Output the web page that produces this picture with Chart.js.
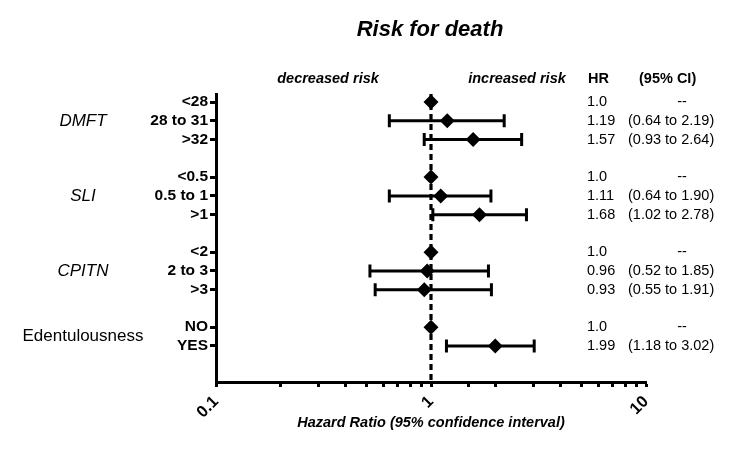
<!DOCTYPE html>
<html>
<head>
<meta charset="utf-8">
<script src="https://cdn.jsdelivr.net/npm/chart.js@4/dist/chart.umd.min.js"></script>
<style>
html,body{margin:0;padding:0;background:#fff;}
canvas{display:block;}
</style>
</head>
<body>
<canvas id="c" width="740" height="450"></canvas>
<script>
const groups = ['DMFT', 'SLI', 'CPITN', 'Edentulousness'];
const groupItalic = [true, true, true, false];
const rowLabels = ['<28', '28 to 31', '>32', '<0.5', '0.5 to 1', '>1', '<2', '2 to 3', '>3', 'NO', 'YES'];
const rowGroup = [0, 0, 0, 1, 1, 1, 2, 2, 2, 3, 3];
const hr = [1.0, 1.19, 1.57, 1.0, 1.11, 1.68, 1.0, 0.96, 0.93, 1.0, 1.99];
const ciLow = [null, 0.64, 0.93, null, 0.64, 1.02, null, 0.52, 0.55, null, 1.18];
const ciHigh = [null, 2.19, 2.64, null, 1.90, 2.78, null, 1.85, 1.91, null, 3.02];
const hrText = ['1.0', '1.19', '1.57', '1.0', '1.11', '1.68', '1.0', '0.96', '0.93', '1.0', '1.99'];
const ciText = ['--', '(0.64 to 2.19)', '(0.93 to 2.64)', '--', '(0.64 to 1.90)', '(1.02 to 2.78)', '--', '(0.52 to 1.85)', '(0.55 to 1.91)', '--', '(1.18 to 3.02)'];
const xTickLabels = [0.1, 1, 10];
const refValue = 1;

const FONT = "'Liberation Sans', Arial, Helvetica, sans-serif";
const positions = rowLabels.map((_, i) => i + rowGroup[i]);

const overlay = {
  id: 'overlay',
  beforeDatasetsDraw(chart) {
    const { ctx, chartArea, scales: { x, y } } = chart;
    ctx.save();
    const px = x.getPixelForValue(refValue);
    ctx.strokeStyle = '#000';
    ctx.lineWidth = 3.2;
    ctx.setLineDash([6, 4]);
    ctx.beginPath();
    ctx.moveTo(px, chartArea.top);
    ctx.lineTo(px, chartArea.bottom);
    ctx.stroke();
    ctx.setLineDash([]);
    ctx.lineWidth = 3;
    for (let i = 0; i < hr.length; i++) {
      if (ciLow[i] == null) continue;
      const py = y.getPixelForValue(positions[i]);
      const x1 = x.getPixelForValue(ciLow[i]);
      const x2 = x.getPixelForValue(ciHigh[i]);
      ctx.beginPath();
      ctx.moveTo(x1, py); ctx.lineTo(x2, py);
      ctx.moveTo(x1, py - 6.5); ctx.lineTo(x1, py + 6.5);
      ctx.moveTo(x2, py - 6.5); ctx.lineTo(x2, py + 6.5);
      ctx.stroke();
    }
    ctx.restore();
  },
  afterDraw(chart) {
    const { ctx, chartArea, scales: { x, y } } = chart;
    ctx.save();
    ctx.fillStyle = '#000';
    ctx.textBaseline = 'middle';
    ctx.textAlign = 'center';
    ctx.font = `italic bold 22px ${FONT}`;
    ctx.fillText('Risk for death', 430, 30);
    ctx.font = `italic bold 14.5px ${FONT}`;
    ctx.fillText('decreased risk', 328, 79);
    ctx.fillText('increased risk', 517, 79);
    ctx.textAlign = 'left';
    ctx.font = `bold 14.5px ${FONT}`;
    ctx.fillText('HR', 588, 79);
    ctx.fillText('(95% CI)', 639, 79);
    ctx.font = `14.5px ${FONT}`;
    for (let i = 0; i < hr.length; i++) {
      const py = y.getPixelForValue(positions[i]);
      ctx.textAlign = 'left';
      ctx.fillText(hrText[i], 587, py);
      if (ciLow[i] == null) {
        ctx.textAlign = 'center';
        ctx.fillText(ciText[i], 682, py);
      } else {
        ctx.fillText(ciText[i], 628, py);
      }
    }
    ctx.textAlign = 'center';
    groups.forEach((g, gi) => {
      const ps = positions.filter((_, i) => rowGroup[i] === gi);
      const mid = (Math.min(...ps) + Math.max(...ps)) / 2;
      ctx.font = `${groupItalic[gi] ? 'italic ' : ''}17px ${FONT}`;
      ctx.fillText(g, 83, y.getPixelForValue(mid));
    });
    ctx.font = `italic bold 14.5px ${FONT}`;
    ctx.fillText('Hazard Ratio (95% confidence interval)', (chartArea.left + chartArea.right) / 2, 423);
    ctx.restore();
  }
};

new Chart(document.getElementById('c'), {
  type: 'scatter',
  data: {
    datasets: [{
      data: hr.map((v, i) => ({ x: v, y: positions[i] })),
      pointStyle: 'rectRot',
      pointRadius: 7.5,
      pointHoverRadius: 7.5,
      backgroundColor: '#000',
      borderColor: '#000',
      borderWidth: 0,
      clip: false
    }]
  },
  options: {
    responsive: false,
    animation: false,
    events: [],
    layout: { padding: { top: 94, right: 94, left: 0, bottom: 0 } },
    plugins: { legend: { display: false }, tooltip: { enabled: false }, title: { display: false } },
    scales: {
      x: {
        type: 'logarithmic',
        min: 0.1,
        max: 10,
        afterFit(s) { s.height = 68; },
        grid: { drawOnChartArea: false, drawTicks: true, tickLength: 5, tickWidth: 3, color: '#000' },
        border: { display: true, width: 3, color: '#000' },
        ticks: {
          autoSkip: false,
          minRotation: 45,
          maxRotation: 45,
          padding: 5,
          color: '#000',
          font: { family: FONT, size: 16.5, weight: 'bold' },
          callback(v) {
            const m = xTickLabels.find(t => Math.abs(t - v) < 1e-9);
            return m !== undefined ? String(m) : '';
          }
        }
      },
      y: {
        type: 'linear',
        reverse: true,
        min: -0.43,
        max: 14.92,
        afterFit(s) { s.width = 216; },
        afterBuildTicks(s) { s.ticks = positions.map(v => ({ value: v })); },
        grid: { drawOnChartArea: false, drawTicks: true, tickLength: 6, tickWidth: 3, color: '#000' },
        border: { display: true, width: 3, color: '#000' },
        ticks: {
          color: '#000',
          padding: 2,
          font: { family: FONT, size: 15.5, weight: 'bold' },
          callback(v, idx) { return rowLabels[idx]; }
        }
      }
    }
  },
  plugins: [overlay]
});
</script>
</body>
</html>
